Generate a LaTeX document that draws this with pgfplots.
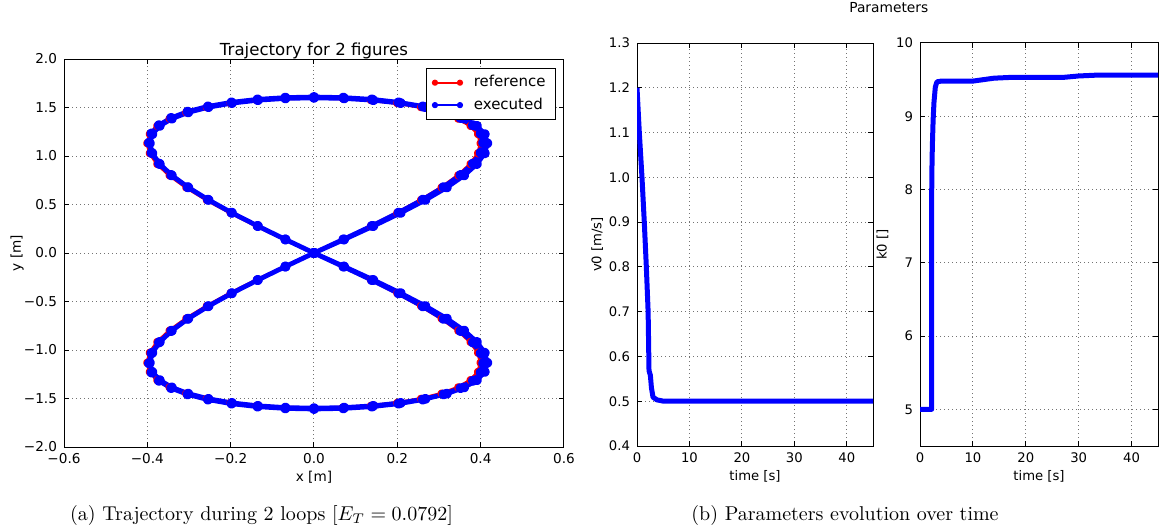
\documentclass[border=0pt]{standalone}
\usepackage{fontspec}
\usepackage{pgfplots}
\usepackage{pgfplotstable}
\pgfplotsset{compat=1.18}
\newfontfamily\dejavu{DejaVu Sans}

% reference figure-eight (x [m], y [m])
\pgfplotstableread{
x y
0.0000 0.0000
0.0695 0.1395
0.1368 0.2778
0.2000 0.4141
0.2571 0.5472
0.3064 0.6762
0.3464 0.8000
0.3759 0.9177
0.3939 1.0285
0.4000 1.1314
0.3939 1.2257
0.3759 1.3107
0.3464 1.3856
0.3064 1.4501
0.2571 1.5035
0.2000 1.5455
0.1368 1.5757
0.0695 1.5939
0.0000 1.6000
-0.0695 1.5939
-0.1368 1.5757
-0.2000 1.5455
-0.2571 1.5035
-0.3064 1.4501
-0.3464 1.3856
-0.3759 1.3107
-0.3939 1.2257
-0.4000 1.1314
-0.3939 1.0285
-0.3759 0.9177
-0.3464 0.8000
-0.3064 0.6762
-0.2571 0.5472
-0.2000 0.4141
-0.1368 0.2778
-0.0695 0.1395
0.0000 0.0000
0.0695 -0.1395
0.1368 -0.2778
0.2000 -0.4141
0.2571 -0.5472
0.3064 -0.6762
0.3464 -0.8000
0.3759 -0.9177
0.3939 -1.0285
0.4000 -1.1314
0.3939 -1.2257
0.3759 -1.3107
0.3464 -1.3856
0.3064 -1.4501
0.2571 -1.5035
0.2000 -1.5455
0.1368 -1.5757
0.0695 -1.5939
0.0000 -1.6000
-0.0695 -1.5939
-0.1368 -1.5757
-0.2000 -1.5455
-0.2571 -1.5035
-0.3064 -1.4501
-0.3464 -1.3856
-0.3759 -1.3107
-0.3939 -1.2257
-0.4000 -1.1314
-0.3939 -1.0285
-0.3759 -0.9177
-0.3464 -0.8000
-0.3064 -0.6762
-0.2571 -0.5472
-0.2000 -0.4141
-0.1368 -0.2778
-0.0695 -0.1395
0.0000 0.0000
}\refpath

% executed trajectory, two loops
\pgfplotstableread{
x y
0.0000 0.0000
0.0705 0.1402
0.1389 0.2792
0.2030 0.4162
0.2610 0.5499
0.3110 0.6796
0.3516 0.8040
0.3815 0.9223
0.3998 1.0336
0.4060 1.1371
0.3998 1.2318
0.3815 1.3173
0.3516 1.3925
0.3110 1.4574
0.2610 1.5110
0.2030 1.5532
0.1389 1.5836
0.0705 1.6019
0.0000 1.6080
-0.0688 1.6019
-0.1354 1.5836
-0.1980 1.5532
-0.2545 1.5110
-0.3033 1.4574
-0.3429 1.3925
-0.3721 1.3173
-0.3900 1.2318
-0.3960 1.1371
-0.3900 1.0336
-0.3721 0.9223
-0.3429 0.8040
-0.3033 0.6796
-0.2545 0.5499
-0.1980 0.4162
-0.1354 0.2792
-0.0688 0.1402
0.0000 0.0000
0.0705 -0.1402
0.1389 -0.2792
0.2030 -0.4162
0.2610 -0.5499
0.3110 -0.6796
0.3516 -0.8040
0.3815 -0.9223
0.3998 -1.0336
0.4060 -1.1371
0.3998 -1.2318
0.3815 -1.3173
0.3516 -1.3925
0.3110 -1.4574
0.2610 -1.5110
0.2030 -1.5532
0.1389 -1.5836
0.0705 -1.6019
0.0000 -1.6080
-0.0688 -1.6019
-0.1354 -1.5836
-0.1980 -1.5532
-0.2545 -1.5110
-0.3033 -1.4574
-0.3429 -1.3925
-0.3721 -1.3173
-0.3900 -1.2318
-0.3960 -1.1371
-0.3900 -1.0336
-0.3721 -0.9223
-0.3429 -0.8040
-0.3033 -0.6796
-0.2545 -0.5499
-0.1980 -0.4162
-0.1354 -0.2792
-0.0688 -0.1402
0.0000 0.0000
0.0723 0.1395
0.1423 0.2778
0.2080 0.4141
0.2674 0.5472
0.3187 0.6762
0.3603 0.8000
0.3909 0.9177
0.4097 1.0285
0.4160 1.1314
0.4097 1.2257
0.3909 1.3107
0.3603 1.3856
0.3187 1.4501
0.2674 1.5035
0.2080 1.5455
0.1423 1.5757
0.0723 1.5939
0.0000 1.6000
-0.0685 1.5939
-0.1347 1.5757
-0.1970 1.5455
-0.2532 1.5035
-0.3018 1.4501
-0.3412 1.3856
-0.3703 1.3107
-0.3880 1.2257
-0.3940 1.1314
-0.3880 1.0285
-0.3703 0.9177
-0.3412 0.8000
-0.3018 0.6762
-0.2532 0.5472
-0.1970 0.4141
-0.1347 0.2778
-0.0685 0.1395
0.0000 0.0000
0.0723 -0.1395
0.1423 -0.2778
0.2080 -0.4141
0.2674 -0.5472
0.3187 -0.6762
0.3603 -0.8000
0.3909 -0.9177
0.4097 -1.0285
0.4160 -1.1314
0.4097 -1.2257
0.3909 -1.3107
0.3603 -1.3856
0.3187 -1.4501
0.2674 -1.5035
0.2080 -1.5455
0.1423 -1.5757
0.0723 -1.5939
0.0000 -1.6000
-0.0685 -1.5939
-0.1347 -1.5757
-0.1970 -1.5455
-0.2532 -1.5035
-0.3018 -1.4501
-0.3412 -1.3856
-0.3703 -1.3107
-0.3880 -1.2257
-0.3940 -1.1314
-0.3880 -1.0285
-0.3703 -0.9177
-0.3412 -0.8000
-0.3018 -0.6762
-0.2532 -0.5472
-0.1970 -0.4141
-0.1347 -0.2778
-0.0685 -0.1395
0.0000 0.0000
}\exepath

% v0 [m/s] over time [s]
\pgfplotstableread{
t v
0.00 1.200
0.44 1.100
0.95 1.000
1.39 0.900
1.78 0.800
2.12 0.700
2.25 0.600
2.29 0.568
2.55 0.558
2.75 0.530
3.05 0.509
3.80 0.503
5.10 0.500
7.00 0.500
45.0 0.500
}\vzero

% k0 over time [s]
\pgfplotstableread{
t k
0.00 5.00
2.20 5.00
2.22 8.14
2.33 8.58
2.48 8.95
2.65 9.20
2.90 9.40
3.20 9.47
4.00 9.48
10.0 9.48
12.0 9.50
14.0 9.52
17.0 9.53
27.0 9.53
30.0 9.55
33.0 9.56
45.0 9.56
}\kzero

\pgfplotsset{
  mplaxis/.style={
    scale only axis,
    axis line style={black, line width=0.5pt},
    every tick/.style={black, line width=0.5pt},
    major tick length=2.5pt,
    tick align=inside,
    grid=major,
    major grid style={black!55, line width=0.5pt, dash pattern=on 0.5pt off 1.5pt},
    tick label style={font=\dejavu\fontsize{#1}{#1}\selectfont},
    xticklabel style={yshift=0.4pt},
    every axis x label/.style={anchor=center, font=\dejavu\fontsize{#1}{#1}\selectfont},
    every axis y label/.style={anchor=center, rotate=90, font=\dejavu\fontsize{#1}{#1}\selectfont},
  },
}

\begin{document}
\begin{tikzpicture}[x=1pt,y=1pt]
\useasboundingbox (0,0) rectangle (580.5,265.5);

% (a) trajectory
\begin{axis}[mplaxis=6.8,
  at={(32pt,42pt)}, anchor=south west,
  width=250pt, height=194pt,
  xmin=-0.6, xmax=0.6, ymin=-2, ymax=2,
  xtick={-0.6,-0.4,-0.2,0,0.2,0.4,0.6},
  xticklabels={−0.6,−0.4,−0.2,0.0,0.2,0.4,0.6},
  ytick={-2,-1.5,-1,-0.5,0,0.5,1,1.5,2},
  yticklabels={−2.0,−1.5,−1.0,−0.5,0.0,0.5,1.0,1.5,2.0},
  xlabel={x [m]}, ylabel={y [m]},
  xlabel style={at={(axis description cs:0.5,-0.0773)}},
  ylabel style={at={(axis description cs:-0.094,0.5)}},
  title={Trajectory for 2 figures},
  title style={font=\dejavu\fontsize{8.3}{8.3}\selectfont, at={(axis description cs:0.5,1)}, anchor=base, yshift=-4pt},
  legend style={at={(1,1)}, anchor=north east, xshift=-4pt, yshift=-4.5pt,
    draw=black, line width=0.5pt, fill=white,
    font=\dejavu\fontsize{7.5}{7.5}\selectfont,
    inner xsep=3pt, inner ysep=1.5pt, row sep=0pt,
    cells={anchor=west}},
  legend image code/.code={%
    \draw[#1] plot coordinates {(0pt,0pt) (12.5pt,0pt)};
    \path (17pt,0pt);},
]
\addplot[red, line width=1.8pt, mark=*, mark size=1.2pt, line join=round,
  legend image post style={line width=0.9pt, mark size=1.1pt}]
  table[x=x, y=y] {\refpath};
\addlegendentry{reference}
\addplot[blue, line width=2.4pt, mark=*, mark size=1.3pt, line join=round,
  legend image post style={line width=0.9pt, mark size=1.1pt}]
  table[x=x, y=y] {\exepath};
\addlegendentry{executed}
\end{axis}

% (b) parameters
\node[font=\dejavu\fontsize{6.9}{6.9}\selectfont, anchor=base] at (444.4,259.1) {Parameters};

\begin{axis}[mplaxis=6.6,
  at={(318.5pt,42.5pt)}, anchor=south west,
  width=118pt, height=201.5pt,
  xmin=0, xmax=45, ymin=0.4, ymax=1.3,
  xtick={0,10,20,30,40},
  xticklabels={0,10,20,30,40},
  ytick={0.4,0.5,0.6,0.7,0.8,0.9,1.0,1.1,1.2,1.3},
  yticklabels={0.4,0.5,0.6,0.7,0.8,0.9,1.0,1.1,1.2,1.3},
  xlabel={time [s]}, ylabel={v0 [m/s]},
  xlabel style={at={(axis description cs:0.5,-0.0744)}},
  ylabel style={at={(axis description cs:-0.169,0.5)}},
]
\addplot[blue, line width=2.5pt, line join=round] table[x=t, y=v] {\vzero};
\end{axis}

\begin{axis}[mplaxis=6.6,
  at={(460pt,42.5pt)}, anchor=south west,
  width=119pt, height=201.5pt,
  xmin=0, xmax=45, ymin=4.5, ymax=10,
  xtick={0,10,20,30,40},
  xticklabels={0,10,20,30,40},
  ytick={5,6,7,8,9,10},
  yticklabels={5,6,7,8,9,10},
  xlabel={time [s]}, ylabel={k0 []},
  xlabel style={at={(axis description cs:0.5,-0.0744)}},
  ylabel style={at={(axis description cs:-0.158,0.5)}},
]
\addplot[blue, line width=2.5pt, line join=round] table[x=t, y=k] {\kzero};
\end{axis}

% sub-captions
\node[anchor=base, font=\fontsize{10}{12}\selectfont] at (130.75,5.5)
  {(a) Trajectory during 2 loops $[E_T = 0.0792]$};
\node[anchor=base, font=\fontsize{10}{12}\selectfont] at (422.5,5.5)
  {(b) Parameters evolution over time};
\end{tikzpicture}
\end{document}
